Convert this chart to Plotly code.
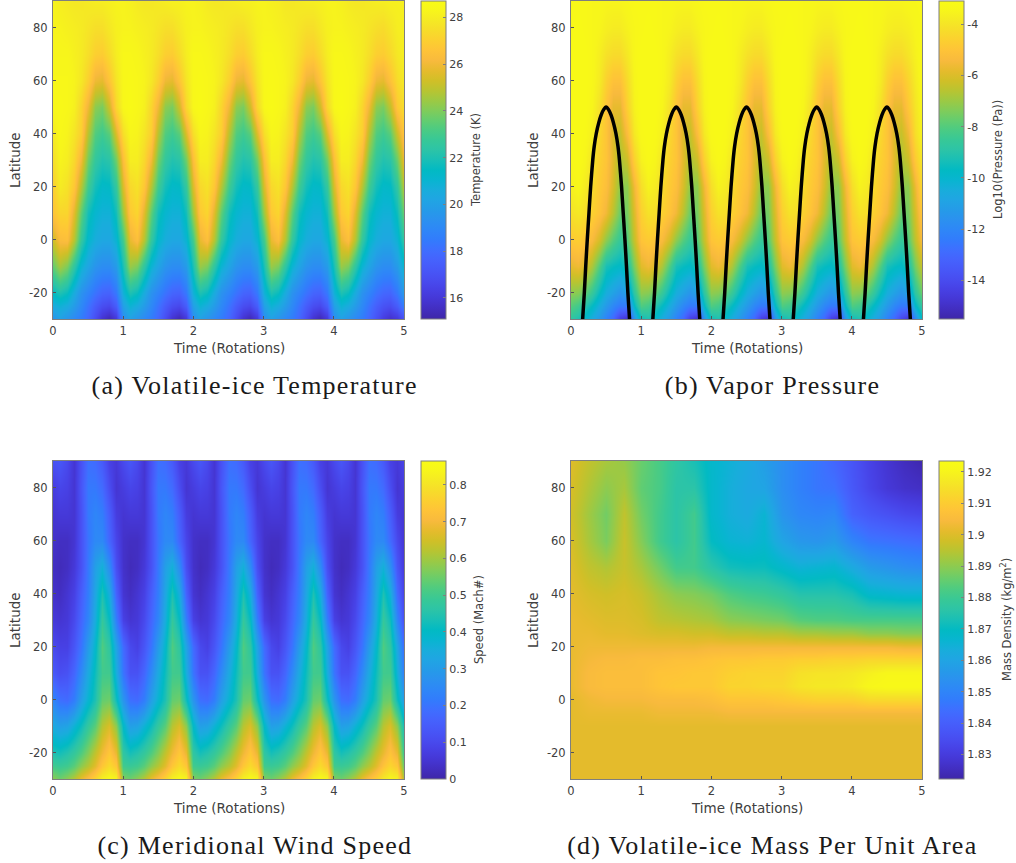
import plotly.graph_objects as go

W, H = 1016, 863

# MATLAB parula colour table
PARULA = [
 (0.2422,0.1504,0.6603),(0.2578,0.1818,0.7511),(0.2706,0.2147,0.8364),(0.2783,0.2559,0.8991),
 (0.2813,0.3006,0.9414),(0.2795,0.3447,0.9717),(0.2699,0.3892,0.9906),(0.2440,0.4358,0.9988),
 (0.1963,0.4847,0.9892),(0.1786,0.5289,0.9682),(0.1687,0.5703,0.9359),(0.1460,0.6091,0.9079),
 (0.1248,0.6459,0.8883),(0.0952,0.6798,0.8598),(0.0297,0.7082,0.8163),(0.0067,0.7312,0.7660),
 (0.0964,0.7500,0.7120),(0.1717,0.7670,0.6554),(0.2161,0.7843,0.5923),(0.2906,0.7973,0.5188),
 (0.3909,0.8029,0.4354),(0.5044,0.7993,0.3480),(0.6174,0.7876,0.2612),(0.7242,0.7698,0.1910),
 (0.8203,0.7498,0.1535),(0.9035,0.7330,0.1774),(0.9728,0.7298,0.2394),(0.9970,0.7659,0.2199),
 (0.9892,0.8136,0.1885),(0.9676,0.8639,0.1643),(0.9597,0.9135,0.1423),(0.9691,0.9606,0.1064),
 (0.9769,0.9839,0.0805)]
colorscale = [[i/(len(PARULA)-1), "rgb(%d,%d,%d)" % tuple(round(c*255) for c in p)] for i, p in enumerate(PARULA)]

time_fine = [0.0,0.1,0.2,0.3,0.4,0.5,0.6,0.7,0.8,0.9,1.0,1.1,1.2,1.3,1.4,1.5,1.6,1.7,1.8,1.9,2.0,2.1,2.2,2.3,2.4,2.5,
             2.6,2.7,2.8,2.9,3.0,3.1,3.2,3.3,3.4,3.5,3.6,3.7,3.8,3.9,4.0,4.1,4.2,4.3,4.4,4.5,4.6,4.7,4.8,4.9,5.0]
lat_fine = [90,80,70,60,50,40,30,20,10,0,-10,-20,-25,-30]

temperature = [
[28.2,28.0,27.9,27.8,27.8,27.9,28.0,28.0,28.1,28.2, 28.2,28.1,27.9,27.8,27.8,27.9,28.0,28.1,28.1,28.2, 28.2,28.1,27.9,27.8,27.8,27.9,28.0,28.1,28.1,28.2, 28.2,28.1,28.0,27.8,27.8,27.9,28.0,28.0,28.1,28.2, 28.2,28.1,27.9,27.8,27.8,27.9,28.0,28.0,28.1,28.1, 28.1],
[28.2,28.2,28.1,28.0,27.9,27.7,27.5,27.5,27.8,28.1, 28.2,28.2,28.1,28.0,27.9,27.7,27.5,27.5,27.8,28.1, 28.2,28.2,28.1,28.0,27.9,27.7,27.5,27.5,27.8,28.1, 28.2,28.2,28.1,28.0,27.9,27.7,27.5,27.5,27.8,28.1, 28.2,28.2,28.1,28.0,27.9,27.7,27.5,27.4,27.7,28.0, 28.1],
[28.3,28.3,28.3,28.1,27.9,27.5,27.0,26.9,27.4,28.0, 28.4,28.4,28.3,28.1,27.9,27.5,27.0,26.9,27.4,28.0, 28.4,28.4,28.3,28.1,27.9,27.5,27.0,26.9,27.4,28.0, 28.4,28.4,28.3,28.1,27.9,27.5,27.0,26.9,27.4,28.0, 28.4,28.4,28.3,28.1,27.9,27.5,27.0,26.9,27.3,27.8, 28.1],
[28.4,28.4,28.4,28.2,27.8,27.0,25.9,25.7,26.6,27.7, 28.4,28.5,28.4,28.2,27.8,27.0,25.9,25.7,26.6,27.7, 28.4,28.5,28.4,28.2,27.8,27.0,25.9,25.7,26.6,27.7, 28.4,28.5,28.4,28.2,27.8,27.0,25.9,25.7,26.6,27.7, 28.4,28.5,28.4,28.2,27.8,27.0,25.9,25.7,26.5,27.4, 27.9],
[28.4,28.5,28.4,28.1,27.2,25.9,24.2,23.9,25.2,27.3, 28.4,28.6,28.4,28.1,27.2,25.9,24.2,23.9,25.2,27.3, 28.4,28.6,28.4,28.1,27.2,25.9,24.2,23.9,25.2,27.3, 28.4,28.6,28.4,28.1,27.2,25.9,24.2,23.9,25.2,27.3, 28.4,28.6,28.4,28.1,27.2,25.9,24.2,23.9,25.0,26.8, 27.5],
[27.9,28.4,28.2,27.7,27.0,24.8,23.3,22.9,23.4,25.5, 27.5,28.3,28.2,27.7,27.0,24.8,23.3,22.9,23.4,25.5, 27.5,28.3,28.2,27.7,27.0,24.8,23.3,22.9,23.4,25.5, 27.5,28.3,28.2,27.7,27.0,24.8,23.3,22.9,23.4,25.5, 27.5,28.3,28.2,27.7,27.0,24.8,23.3,22.9,23.4,25.2, 26.8],
[27.5,28.2,28.0,27.3,26.0,23.8,22.6,22.1,22.3,23.8, 26.4,28.0,28.0,27.3,26.0,23.8,22.6,22.1,22.3,23.8, 26.4,28.0,28.0,27.3,26.0,23.8,22.6,22.1,22.3,23.8, 26.4,28.0,28.0,27.3,26.0,23.8,22.6,22.1,22.3,23.8, 26.4,28.0,28.0,27.3,26.0,23.8,22.6,22.1,22.3,23.7, 26.0],
[27.0,27.9,27.6,26.7,24.8,22.9,21.8,21.3,21.4,22.6, 25.5,27.3,27.6,26.7,24.8,22.9,21.8,21.3,21.4,22.6, 25.5,27.3,27.6,26.7,24.8,22.9,21.8,21.3,21.4,22.6, 25.5,27.3,27.6,26.7,24.8,22.9,21.8,21.3,21.4,22.6, 25.5,27.3,27.6,26.7,24.8,22.9,21.8,21.3,21.4,22.5, 25.0],
[26.6,27.2,27.2,25.6,23.5,21.8,21.1,20.8,20.8,21.8, 24.5,26.8,27.2,25.6,23.5,21.8,21.1,20.8,20.8,21.8, 24.5,26.8,27.2,25.6,23.5,21.8,21.1,20.8,20.8,21.8, 24.5,26.8,27.2,25.6,23.5,21.8,21.1,20.8,20.8,21.8, 24.5,26.8,27.2,25.6,23.5,21.8,21.1,20.8,20.8,21.7, 23.8],
[25.3,26.3,26.4,24.8,22.6,21.2,20.6,20.3,20.3,21.0, 23.0,25.8,26.4,24.8,22.6,21.2,20.6,20.3,20.3,21.0, 23.0,25.8,26.4,24.8,22.6,21.2,20.6,20.3,20.3,21.0, 23.0,25.8,26.4,24.8,22.6,21.2,20.6,20.3,20.3,21.0, 23.0,25.8,26.4,24.8,22.6,21.2,20.6,20.3,20.3,20.9, 22.6],
[23.6,24.6,24.0,22.5,21.0,20.2,19.5,19.2,19.2,19.8, 22.0,24.4,24.0,22.5,21.0,20.2,19.5,19.2,19.2,19.8, 22.0,24.4,24.0,22.5,21.0,20.2,19.5,19.2,19.2,19.8, 22.0,24.4,24.0,22.5,21.0,20.2,19.5,19.2,19.2,19.8, 22.0,24.4,24.0,22.5,21.0,20.2,19.5,19.2,19.2,19.8, 21.2],
[21.5,22.0,21.6,20.5,19.4,18.8,18.2,17.7,17.6,18.4, 20.8,22.0,21.6,20.5,19.4,18.8,18.2,17.7,17.6,18.4, 20.8,22.0,21.6,20.5,19.4,18.8,18.2,17.7,17.6,18.4, 20.8,22.0,21.6,20.5,19.4,18.8,18.2,17.7,17.6,18.4, 20.8,22.0,21.6,20.5,19.4,18.8,18.2,17.8,17.7,18.4, 19.8],
[20.5,20.8,20.5,19.8,19.0,18.2,17.4,16.8,16.6,17.4, 20.0,20.9,20.5,19.8,19.0,18.2,17.4,16.8,16.6,17.4, 20.0,20.9,20.5,19.8,19.0,18.2,17.4,16.8,16.6,17.4, 20.0,20.9,20.5,19.8,19.0,18.2,17.4,16.8,16.6,17.4, 20.0,20.9,20.5,19.8,19.0,18.2,17.5,17.0,16.8,17.4, 18.6],
[19.5,20.0,19.5,19.0,18.5,17.8,16.8,15.8,15.3,16.0, 19.2,20.0,19.5,19.0,18.5,17.8,16.8,15.8,15.3,16.0, 19.2,20.0,19.5,19.0,18.5,17.8,16.8,15.8,15.3,16.0, 19.2,20.0,19.5,19.0,18.5,17.8,16.8,15.8,15.3,16.0, 19.2,20.0,19.5,19.0,18.5,17.8,17.0,16.2,15.7,16.0, 17.0],
]

pressure = [
[-3.3,-3.3,-3.3,-3.4,-3.4,-3.5,-3.5,-3.5,-3.4,-3.3, -3.3,-3.3,-3.3,-3.4,-3.4,-3.5,-3.5,-3.5,-3.4,-3.3, -3.3,-3.3,-3.3,-3.4,-3.4,-3.5,-3.5,-3.5,-3.4,-3.3, -3.3,-3.3,-3.3,-3.4,-3.4,-3.5,-3.5,-3.5,-3.4,-3.3, -3.3,-3.3,-3.3,-3.4,-3.4,-3.5,-3.5,-3.5,-3.4,-3.4, -3.3],
[-3.3,-3.2,-3.3,-3.4,-3.5,-3.7,-3.8,-3.8,-3.6,-3.4, -3.3,-3.2,-3.3,-3.4,-3.5,-3.7,-3.8,-3.8,-3.6,-3.4, -3.3,-3.2,-3.3,-3.4,-3.5,-3.7,-3.8,-3.8,-3.6,-3.4, -3.3,-3.2,-3.3,-3.4,-3.5,-3.7,-3.8,-3.8,-3.6,-3.4, -3.3,-3.2,-3.3,-3.4,-3.5,-3.7,-3.8,-3.8,-3.7,-3.5, -3.4],
[-3.2,-3.2,-3.2,-3.4,-3.7,-4.1,-4.3,-4.3,-3.9,-3.4, -3.2,-3.2,-3.2,-3.4,-3.7,-4.1,-4.3,-4.3,-3.9,-3.4, -3.2,-3.2,-3.2,-3.4,-3.7,-4.1,-4.3,-4.3,-3.9,-3.4, -3.2,-3.2,-3.2,-3.4,-3.7,-4.1,-4.3,-4.3,-3.9,-3.4, -3.2,-3.2,-3.2,-3.4,-3.7,-4.1,-4.3,-4.3,-4.0,-3.6, -3.3],
[-3.2,-3.2,-3.2,-3.4,-3.8,-4.6,-5.1,-5.1,-4.3,-3.5, -3.2,-3.2,-3.2,-3.4,-3.8,-4.6,-5.1,-5.1,-4.3,-3.5, -3.2,-3.2,-3.2,-3.4,-3.8,-4.6,-5.1,-5.1,-4.3,-3.5, -3.2,-3.2,-3.2,-3.4,-3.8,-4.6,-5.1,-5.1,-4.3,-3.5, -3.2,-3.2,-3.2,-3.4,-3.8,-4.6,-5.1,-5.1,-4.5,-3.8, -3.3],
[-3.2,-3.2,-3.2,-3.5,-4.1,-5.0,-5.8,-5.8,-4.6,-3.6, -3.2,-3.2,-3.2,-3.5,-4.1,-5.0,-5.8,-5.8,-4.6,-3.6, -3.2,-3.2,-3.2,-3.5,-4.1,-5.0,-5.8,-5.8,-4.6,-3.6, -3.2,-3.2,-3.2,-3.5,-4.1,-5.0,-5.8,-5.8,-4.6,-3.6, -3.2,-3.2,-3.2,-3.5,-4.1,-5.0,-5.8,-5.8,-4.9,-4.0, -3.4],
[-3.2,-3.2,-3.3,-3.7,-4.4,-5.0,-6.0,-6.4,-5.3,-3.9, -3.3,-3.2,-3.3,-3.7,-4.4,-5.0,-6.0,-6.4,-5.3,-3.9, -3.3,-3.2,-3.3,-3.7,-4.4,-5.0,-6.0,-6.4,-5.3,-3.9, -3.3,-3.2,-3.3,-3.7,-4.4,-5.0,-6.0,-6.4,-5.3,-3.9, -3.3,-3.2,-3.3,-3.7,-4.4,-5.0,-6.0,-6.4,-5.6,-4.2, -3.5],
[-3.3,-3.2,-3.5,-4.0,-4.6,-5.0,-5.9,-6.8,-6.3,-4.6, -3.6,-3.3,-3.5,-4.0,-4.6,-5.0,-5.9,-6.8,-6.3,-4.6, -3.6,-3.3,-3.5,-4.0,-4.6,-5.0,-5.9,-6.8,-6.3,-4.6, -3.6,-3.3,-3.5,-4.0,-4.6,-5.0,-5.9,-6.8,-6.3,-4.6, -3.6,-3.3,-3.5,-4.0,-4.6,-5.0,-5.9,-6.8,-6.3,-4.8, -3.9],
[-3.6,-3.4,-3.8,-4.3,-4.8,-5.2,-6.1,-7.2,-7.2,-5.6, -4.2,-3.6,-3.8,-4.3,-4.8,-5.2,-6.1,-7.2,-7.2,-5.6, -4.2,-3.6,-3.8,-4.3,-4.8,-5.2,-6.1,-7.2,-7.2,-5.6, -4.2,-3.6,-3.8,-4.3,-4.8,-5.2,-6.1,-7.2,-7.2,-5.6, -4.2,-3.6,-3.8,-4.3,-4.8,-5.2,-6.1,-7.2,-7.2,-5.7, -4.3],
[-4.1,-3.9,-4.2,-4.6,-5.0,-5.6,-6.6,-7.7,-7.5,-6.0, -4.6,-4.1,-4.2,-4.6,-5.0,-5.6,-6.6,-7.7,-7.5,-6.0, -4.6,-4.1,-4.2,-4.6,-5.0,-5.6,-6.6,-7.7,-7.5,-6.0, -4.6,-4.1,-4.2,-4.6,-5.0,-5.6,-6.6,-7.7,-7.5,-6.0, -4.6,-4.1,-4.2,-4.6,-5.0,-5.6,-6.6,-7.7,-7.5,-6.1, -4.8],
[-4.8,-4.7,-5.0,-5.4,-6.1,-7.2,-8.0,-8.6,-8.0,-6.4, -5.0,-4.8,-5.0,-5.4,-6.1,-7.2,-8.0,-8.6,-8.0,-6.4, -5.0,-4.8,-5.0,-5.4,-6.1,-7.2,-8.0,-8.6,-8.0,-6.4, -5.0,-4.8,-5.0,-5.4,-6.1,-7.2,-8.0,-8.6,-8.0,-6.4, -5.0,-4.8,-5.0,-5.4,-6.1,-7.2,-8.0,-8.6,-8.0,-6.5, -5.3],
[-5.8,-5.6,-6.0,-6.8,-8.0,-9.3,-9.6,-9.8,-9.2,-7.4, -5.9,-5.6,-6.0,-6.8,-8.0,-9.3,-9.6,-9.8,-9.2,-7.4, -5.9,-5.6,-6.0,-6.8,-8.0,-9.3,-9.6,-9.8,-9.2,-7.4, -5.9,-5.6,-6.0,-6.8,-8.0,-9.3,-9.6,-9.8,-9.2,-7.4, -5.9,-5.6,-6.0,-6.8,-8.0,-9.3,-9.6,-9.8,-9.2,-7.5, -6.3],
[-7.2,-7.3,-7.8,-8.6,-9.6,-10.5,-11.0,-11.5,-11.0,-8.8, -7.2,-7.3,-7.8,-8.6,-9.6,-10.5,-11.0,-11.5,-11.0,-8.8, -7.2,-7.3,-7.8,-8.6,-9.6,-10.5,-11.0,-11.5,-11.0,-8.8, -7.2,-7.3,-7.8,-8.6,-9.6,-10.5,-11.0,-11.5,-11.0,-8.8, -7.2,-7.3,-7.8,-8.6,-9.6,-10.5,-11.0,-11.5,-11.0,-8.8, -7.6],
[-8.0,-8.3,-9.0,-9.7,-10.5,-11.3,-12.0,-12.5,-12.5,-9.8, -8.1,-8.3,-9.0,-9.7,-10.5,-11.3,-12.0,-12.5,-12.5,-9.8, -8.1,-8.3,-9.0,-9.7,-10.5,-11.3,-12.0,-12.5,-12.5,-9.8, -8.1,-8.3,-9.0,-9.7,-10.5,-11.3,-12.0,-12.5,-12.5,-9.8, -8.1,-8.3,-9.0,-9.7,-10.5,-11.3,-12.0,-12.5,-12.5,-9.9, -8.6],
[-8.8,-9.2,-10.0,-10.6,-11.3,-12.2,-13.0,-14.5,-15.0,-11.5, -9.5,-9.2,-10.0,-10.6,-11.3,-12.2,-13.0,-14.5,-15.0,-11.5, -9.5,-9.2,-10.0,-10.6,-11.3,-12.2,-13.0,-14.5,-15.0,-11.5, -9.5,-9.2,-10.0,-10.6,-11.3,-12.2,-13.0,-14.5,-15.0,-11.5, -9.5,-9.2,-10.0,-10.6,-11.3,-12.2,-13.0,-14.2,-14.8,-12.0, -9.6],
]

speed = [
[.12,.13,.10,.05,.12,.19,.18,.14,.08,.06, .10,.13,.10,.05,.12,.19,.18,.14,.08,.06, .10,.13,.10,.05,.12,.19,.18,.14,.08,.06, .10,.13,.10,.05,.12,.19,.18,.14,.08,.06, .10,.13,.10,.05,.12,.19,.18,.14,.08,.06, .09],
[.07,.09,.08,.05,.13,.21,.21,.18,.11,.05, .07,.09,.08,.05,.13,.21,.21,.18,.11,.05, .07,.09,.08,.05,.13,.21,.21,.18,.11,.05, .07,.09,.08,.05,.13,.21,.21,.18,.11,.05, .07,.09,.08,.05,.13,.21,.21,.18,.11,.05, .07],
[.05,.06,.06,.05,.12,.21,.24,.22,.15,.07, .05,.06,.06,.05,.12,.21,.24,.22,.15,.07, .05,.06,.06,.05,.12,.21,.24,.22,.15,.07, .05,.06,.06,.05,.12,.21,.24,.22,.15,.07, .05,.06,.06,.05,.12,.21,.24,.22,.15,.07, .05],
[.04,.03,.03,.05,.12,.20,.25,.25,.17,.09, .04,.03,.03,.05,.12,.20,.25,.25,.17,.09, .04,.03,.03,.05,.12,.20,.25,.25,.17,.09, .04,.03,.03,.05,.12,.20,.25,.25,.17,.09, .04,.03,.03,.05,.12,.20,.25,.25,.18,.10, .05],
[.03,.02,.03,.06,.12,.21,.31,.36,.26,.11, .04,.02,.03,.06,.12,.21,.31,.36,.26,.11, .04,.02,.03,.06,.12,.21,.31,.36,.26,.11, .04,.02,.03,.06,.12,.21,.31,.36,.26,.11, .04,.02,.03,.06,.12,.21,.31,.36,.27,.13, .06],
[.04,.03,.05,.08,.15,.22,.33,.44,.35,.16, .05,.03,.05,.08,.15,.22,.33,.44,.35,.16, .05,.03,.05,.08,.15,.22,.33,.44,.35,.16, .05,.03,.05,.08,.15,.22,.33,.44,.35,.16, .05,.03,.05,.08,.15,.22,.33,.44,.36,.18, .08],
[.06,.05,.06,.10,.17,.24,.35,.48,.41,.22, .08,.05,.06,.10,.17,.24,.35,.48,.41,.22, .08,.05,.06,.10,.17,.24,.35,.48,.41,.22, .08,.05,.06,.10,.17,.24,.35,.48,.41,.22, .08,.05,.06,.10,.17,.24,.35,.48,.42,.24, .11],
[.10,.08,.08,.13,.20,.30,.39,.52,.47,.32, .18,.10,.08,.13,.20,.30,.39,.52,.47,.32, .18,.10,.08,.13,.20,.30,.39,.52,.47,.32, .18,.10,.08,.13,.20,.30,.39,.52,.47,.32, .18,.10,.08,.13,.20,.30,.39,.52,.47,.33, .18],
[.14,.11,.12,.17,.25,.34,.42,.50,.50,.35, .20,.12,.12,.17,.25,.34,.42,.50,.50,.35, .20,.12,.12,.17,.25,.34,.42,.50,.50,.35, .20,.12,.12,.17,.25,.34,.42,.50,.50,.35, .20,.12,.12,.17,.25,.34,.42,.50,.50,.36, .22],
[.24,.19,.18,.22,.31,.38,.44,.54,.55,.42, .28,.19,.18,.22,.31,.38,.44,.54,.55,.42, .28,.19,.18,.22,.31,.38,.44,.54,.55,.42, .28,.19,.18,.22,.31,.38,.44,.54,.55,.42, .28,.19,.18,.22,.31,.38,.44,.54,.55,.42, .30],
[.34,.31,.32,.37,.42,.48,.53,.62,.66,.58, .40,.31,.32,.37,.42,.48,.53,.62,.66,.58, .40,.31,.32,.37,.42,.48,.53,.62,.66,.58, .40,.31,.32,.37,.42,.48,.53,.62,.66,.58, .40,.31,.32,.37,.42,.48,.53,.62,.66,.58, .42],
[.44,.43,.45,.48,.52,.57,.63,.69,.74,.68, .47,.43,.45,.48,.52,.57,.63,.69,.74,.68, .47,.43,.45,.48,.52,.57,.63,.69,.74,.68, .47,.43,.45,.48,.52,.57,.63,.69,.74,.68, .47,.43,.45,.48,.52,.57,.63,.68,.73,.68, .48],
[.50,.49,.50,.53,.58,.62,.67,.74,.78,.74, .50,.49,.50,.53,.58,.62,.67,.74,.78,.74, .50,.49,.50,.53,.58,.62,.67,.74,.78,.74, .50,.49,.50,.53,.58,.62,.67,.74,.78,.74, .50,.49,.50,.53,.58,.62,.67,.73,.77,.74, .53],
[.58,.55,.58,.62,.68,.72,.77,.83,.85,.84, .57,.55,.58,.62,.68,.72,.77,.83,.85,.84, .57,.55,.58,.62,.68,.72,.77,.83,.85,.84, .57,.55,.58,.62,.68,.72,.77,.83,.85,.84, .57,.55,.58,.62,.68,.72,.76,.81,.84,.83, .60],
]

time_mass = [0,0.25,0.5,0.75,1,1.25,1.5,1.75,2,2.25,2.5,2.75,3,3.25,3.5,3.75,4,4.25,4.5,4.75,5]
lat_mass = [90,80,70,60,50,40,30,25,20,15,10,5,0,-5,-10,-30]
mass = [
[1.900,1.896,1.893,1.891,1.886,1.882,1.877,1.873,1.868,1.865,1.862,1.858,1.853,1.849,1.846,1.842,1.837,1.832,1.828,1.825,1.823],
[1.899,1.894,1.890,1.893,1.885,1.882,1.876,1.876,1.868,1.864,1.861,1.860,1.853,1.849,1.846,1.845,1.838,1.833,1.829,1.827,1.826],
[1.898,1.892,1.887,1.896,1.887,1.881,1.876,1.881,1.868,1.864,1.862,1.866,1.855,1.851,1.850,1.851,1.841,1.838,1.836,1.834,1.833],
[1.899,1.893,1.888,1.897,1.889,1.881,1.876,1.881,1.870,1.866,1.865,1.867,1.860,1.856,1.855,1.857,1.850,1.846,1.845,1.844,1.843],
[1.900,1.896,1.894,1.897,1.893,1.887,1.881,1.881,1.876,1.872,1.871,1.871,1.868,1.865,1.866,1.867,1.862,1.857,1.855,1.853,1.852],
[1.901,1.899,1.898,1.899,1.897,1.893,1.890,1.889,1.887,1.883,1.881,1.880,1.878,1.875,1.875,1.875,1.873,1.868,1.867,1.866,1.866],
[1.902,1.901,1.900,1.900,1.899,1.896,1.895,1.894,1.893,1.890,1.889,1.888,1.887,1.884,1.883,1.883,1.882,1.882,1.882,1.882,1.882],
[1.902,1.902,1.901,1.901,1.900,1.899,1.899,1.898,1.898,1.896,1.896,1.895,1.895,1.893,1.893,1.892,1.892,1.890,1.890,1.889,1.889],
[1.902,1.903,1.903,1.903,1.903,1.903,1.903,1.903,1.904,1.904,1.904,1.904,1.904,1.904,1.904,1.904,1.904,1.904,1.904,1.903,1.903],
[1.902,1.904,1.905,1.905,1.906,1.906,1.907,1.907,1.908,1.909,1.909,1.910,1.910,1.911,1.911,1.912,1.912,1.913,1.913,1.913,1.913],
[1.902,1.905,1.906,1.906,1.906,1.908,1.908,1.909,1.909,1.911,1.912,1.912,1.912,1.915,1.916,1.916,1.917,1.919,1.921,1.921,1.921],
[1.902,1.905,1.906,1.906,1.906,1.908,1.909,1.909,1.909,1.912,1.912,1.913,1.913,1.916,1.917,1.917,1.918,1.921,1.922,1.922,1.922],
[1.901,1.903,1.904,1.904,1.904,1.905,1.905,1.905,1.906,1.908,1.908,1.908,1.909,1.910,1.911,1.911,1.911,1.913,1.913,1.913,1.913],
[1.901,1.902,1.902,1.902,1.902,1.903,1.903,1.903,1.903,1.904,1.904,1.904,1.904,1.904,1.904,1.904,1.904,1.904,1.904,1.904,1.904],
[1.901,1.901,1.901,1.901,1.901,1.901,1.901,1.901,1.901,1.901,1.901,1.901,1.901,1.901,1.901,1.901,1.901,1.901,1.901,1.901,1.901],
[1.901,1.901,1.901,1.901,1.901,1.901,1.901,1.901,1.901,1.901,1.901,1.901,1.901,1.901,1.901,1.901,1.901,1.901,1.901,1.901,1.901],
]

terminator_lat = [-30,-20,-10,0,10,20,30,35,40,44,47,49,50,49,47,44,40,35,30,20,10,0,-10,-20,-30]
terminator_t = [
 [0.166,0.19,0.21,0.232,0.256,0.28,0.31,0.33,0.36,0.395,0.43,0.465,0.50,0.535,0.57,0.605,0.64,0.67,0.69,0.72,0.744,0.768,0.79,0.81,0.834],
 [1.166,1.19,1.21,1.232,1.256,1.28,1.31,1.33,1.36,1.395,1.43,1.465,1.50,1.535,1.57,1.605,1.64,1.67,1.69,1.72,1.744,1.768,1.79,1.81,1.834],
 [2.166,2.19,2.21,2.232,2.256,2.28,2.31,2.33,2.36,2.395,2.43,2.465,2.50,2.535,2.57,2.605,2.64,2.67,2.69,2.72,2.744,2.768,2.79,2.81,2.834],
 [3.166,3.19,3.21,3.232,3.256,3.28,3.31,3.33,3.36,3.395,3.43,3.465,3.50,3.535,3.57,3.605,3.64,3.67,3.69,3.72,3.744,3.768,3.79,3.81,3.834],
 [4.166,4.19,4.21,4.232,4.256,4.28,4.31,4.33,4.36,4.395,4.43,4.465,4.50,4.535,4.57,4.605,4.64,4.67,4.69,4.72,4.744,4.768,4.79,4.81,4.834],
]

x_ticks = [0,1,2,3,4,5]
y_ticks = [-20,0,20,40,60,80]
y_ticktext = ["-20","0","20","40","60","80"]
cb_ticks_a = [16,18,20,22,24,26,28]
cb_ticks_b = [-14,-12,-10,-8,-6,-4]
cb_text_b = ["-14","-12","-10","-8","-6","-4"]
cb_ticks_c = [0,0.1,0.2,0.3,0.4,0.5,0.6,0.7,0.8]
cb_text_c = ["0","0.1","0.2","0.3","0.4","0.5","0.6","0.7","0.8"]
cb_ticks_d = [1.83,1.84,1.85,1.86,1.87,1.88,1.89,1.9,1.91,1.92]
cb_text_d = ["1.83","1.84","1.85","1.86","1.87","1.88","1.89","1.9","1.91","1.92"]
captions = ["(a) Volatile-ice Temperature","(b) Vapor Pressure","(c) Meridional Wind Speed","(d) Volatile-ice Mass Per Unit Area"]

TXT = "#404040"
AX = "#7f7f7f"
FONT = "DejaVu Sans"

# panel boxes in pixels: left, right, top, bottom
panels = [(53,404,1,319),(571,922,1,319),(53,404,461,779),(571,922,461,779)]
cb_left = [421,939,421,939]
cb_title_x = [476,998,479,1006]
data = [(time_fine,lat_fine,temperature,15.1,28.7,cb_ticks_a,[str(v) for v in cb_ticks_a],"Temperature (K)"),
        (time_fine,lat_fine,pressure,-15.5,-3.1,cb_ticks_b,cb_text_b,"Log10(Pressure (Pa))"),
        (time_fine,lat_fine,speed,0,0.865,cb_ticks_c,cb_text_c,"Speed (Mach#)"),
        (time_mass,lat_mass,mass,1.8222,1.9235,cb_ticks_d,cb_text_d,"Mass Density (kg/m<sup>2</sup>)")]

fig = go.Figure()
layout = dict(width=W, height=H, margin=dict(l=0,r=0,t=0,b=0), paper_bgcolor="white", plot_bgcolor="white",
              showlegend=False, font=dict(family=FONT,size=11.5,color=TXT))
annotations = []
for i,((l,r,t,b),cl,ctx,(xs,ys,zs,zmin,zmax,tv,tt,cbt)) in enumerate(zip(panels,cb_left,cb_title_x,data)):
    n = "" if i==0 else str(i+1)
    fig.add_trace(go.Heatmap(x=xs,y=ys,z=zs,zmin=zmin,zmax=zmax,colorscale=colorscale,zsmooth="best",
        xaxis="x"+n,yaxis="y"+n,
        colorbar=dict(x=cl/W,xanchor="left",xpad=0,ypad=0,y=1-t/H,yanchor="top",len=(b-t)/H,lenmode="fraction",
                      thickness=25,thicknessmode="pixels",tickvals=tv,ticktext=tt,ticks="inside",ticklen=3,
                      tickcolor=AX,outlinecolor=AX,outlinewidth=1,tickfont=dict(family=FONT,size=11,color=TXT))))
    common = dict(showgrid=False,zeroline=False,showline=True,linecolor=AX,linewidth=1,mirror=True,ticks="inside",
                  ticklen=3,tickcolor="#555555",tickfont=dict(family=FONT,size=11.5,color=TXT),automargin=False)
    layout["xaxis"+n] = dict(domain=[l/W,r/W],range=[0,5],tickvals=x_ticks,anchor="y"+n,ticklabelstandoff=1,**common)
    layout["yaxis"+n] = dict(domain=[1-b/H,1-t/H],range=[-30,90],tickvals=y_ticks,ticktext=y_ticktext,anchor="x"+n,ticklabelstandoff=2,**common)
    annotations.append(dict(text="Time (Rotations)",xref="paper",yref="paper",x=(l+r)/2/W,y=1-(b+28.5)/H,showarrow=False,
                            xanchor="center",yanchor="middle",font=dict(family=FONT,size=13.5,color=TXT)))
    annotations.append(dict(text="Latitude",xref="paper",yref="paper",x=(l-38)/W,y=1-(t+b)/2/H,showarrow=False,textangle=-90,
                            xanchor="center",yanchor="middle",font=dict(family=FONT,size=13.5,color=TXT)))
    annotations.append(dict(text=cbt,xref="paper",yref="paper",x=ctx/W,y=1-(t+b)/2/H,showarrow=False,textangle=-90,
                            xanchor="center",yanchor="middle",font=dict(family=FONT,size=11.5,color=TXT)))
    annotations.append(dict(text=captions[i],xref="paper",yref="paper",x=(l+r)/2/W+26/W,y=1-(b+66)/H,showarrow=False,
                            xanchor="center",yanchor="middle",font=dict(family="Liberation Serif",size=26,color="#1a1a1a")))
# black terminator curve over panel (b)
for arch in terminator_t:
    fig.add_trace(go.Scatter(x=arch,y=terminator_lat,mode="lines",xaxis="x2",yaxis="y2",hoverinfo="skip",
                             line=dict(color="black",width=3.5,shape="spline",smoothing=0.8)))
layout["annotations"]=annotations
fig.update_layout(**layout)
fig.write_html("out.html", config={"displayModeBar":False},
    post_script="document.body.style.margin='0';"
    "document.querySelectorAll('.annotation-text').forEach(function(t){if(t.textContent.charAt(0)==='('){t.style.letterSpacing='1.25px';}});")
